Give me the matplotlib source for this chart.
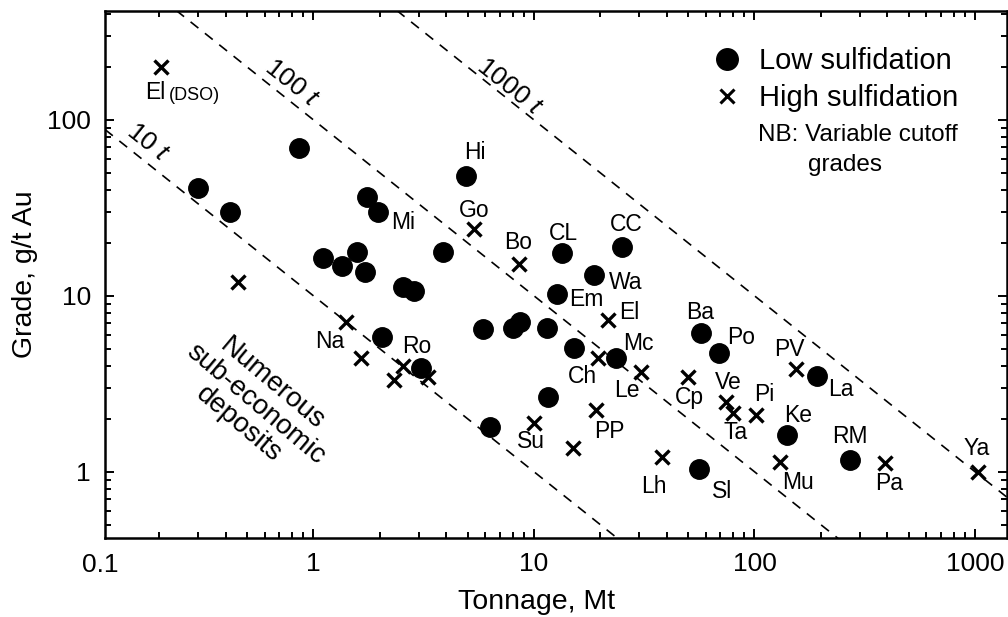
import numpy as np
import matplotlib
matplotlib.use('Agg')
import matplotlib.pyplot as plt
from matplotlib.lines import Line2D
from matplotlib.ticker import FixedLocator, FuncFormatter, NullFormatter

plt.rcParams['font.family'] = ['Liberation Sans', 'DejaVu Sans']
plt.rcParams['mathtext.fontset'] = 'custom'
plt.rcParams['mathtext.rm'] = 'Liberation Sans'
plt.rcParams['mathtext.it'] = 'Liberation Sans:italic'

# ---------------- data ----------------
ls_names = ['', 'Hi', '', '', '', 'Mi', '', '', '', '', '', '', '', '', '', '', '', '', '',
            'CL', 'CC', 'Wa', 'Em', '', 'Mc', '', '', 'Ba', 'Po', 'La', 'Sl', 'Ke', 'RM']
ls_tonnage = [0.86, 4.9, 0.30, 0.42, 1.74, 1.97, 3.86, 1.11, 1.35, 1.58, 1.72, 2.54, 2.85,
              2.04, 3.06, 5.9, 8.0, 8.6, 11.5, 13.4, 25, 18.7, 12.7, 15.2, 23.6, 11.6, 6.3,
              57, 69, 193, 56, 141, 270]
ls_grade = [69, 48, 41, 30, 36.5, 30, 17.8, 16.4, 14.8, 17.8, 13.7, 11.2, 10.7,
            5.85, 3.9, 6.5, 6.6, 7.1, 6.6, 17.5, 19, 13.2, 10.3, 5.07, 4.44, 2.67, 1.8,
            6.17, 4.74, 3.51, 1.04, 1.62, 1.17]

hs_names = ['El(DSO)', 'Go', 'Bo', '', 'Na', '', 'Ro', '', '', 'El', 'Ch', 'Le', 'Su', 'PP', '',
            'Cp', 'Ve', 'Ta', 'Pi', 'PV', 'Lh', 'Mu', 'Pa', 'Ya']
hs_tonnage = [0.204, 5.34, 8.55, 0.456, 1.40, 1.64, 2.56, 3.30, 2.31, 21.7, 19.5, 30.6, 10.0,
              19.1, 15.0, 50, 74, 80, 102, 154, 38, 131, 390, 1030]
hs_grade = [200, 24, 15.2, 12.0, 7.1, 4.44, 4.0, 3.47, 3.33, 7.3, 4.44, 3.7, 1.9,
            2.25, 1.37, 3.47, 2.5, 2.16, 2.11, 3.85, 1.22, 1.14, 1.12, 1.0]

contained_au_t = [10, 100, 1000]
x_ticks = [1, 10, 100, 1000]
y_ticks = [1, 10, 100]

# ---------------- layout (label offsets in points) ----------------
ls_off = {'Hi': (6.5, 17), 'Mi': (18, -8), 'CL': (0.7, 14.4), 'CC': (3, 16), 'Wa': (23, -6),
          'Em': (21, -4), 'Mc': (16, 10), 'Ba': (-0.7, 14.4), 'Po': (16, 11), 'La': (17, -10),
          'Sl': (16.5, -16.5), 'Ke': (8, 13.7), 'RM': (0, 16.5)}
hs_off = {'Go': (0, 13), 'Bo': (-0.7, 15), 'Na': (-11.5, -14.4), 'Ro': (9.4, 13.7),
          'El': (15, 5), 'Ch': (-11.5, -13.7), 'Le': (-10, -13.7), 'Su': (-2, -13.7),
          'PP': (10, -16), 'Cp': (0.7, -15), 'Ve': (2, 13.7), 'Ta': (2, -14.4),
          'Pi': (6, 14.4), 'PV': (-4.3, 13.7), 'Lh': (-6, -21.6), 'Mu': (13, -15),
          'Pa': (3, -14.4), 'Ya': (-0.7, 17)}

fig = plt.figure(figsize=(10.08, 6.17), dpi=100)
ax = fig.add_axes([105 / 1008, 79 / 617, 902 / 1008, 527 / 617])
ax.set_xscale('log')
ax.set_yscale('log')
ax.set_xlim(0.1134, 1397)
ax.set_ylim(0.42, 416)

# iso-contained-gold lines
xs = np.logspace(np.log10(0.1134), np.log10(1397), 200)
for t in contained_au_t:
    ax.plot(xs, t / xs, color='k', lw=1.2, ls=(0, (6, 5)), zorder=1)

ax.plot(ls_tonnage, ls_grade, 'o', color='k', markersize=14, ls='none', zorder=3)
ax.plot(hs_tonnage, hs_grade, 'x', color='k', markersize=10, mew=2.4, ls='none', zorder=3)

lab_fs = 16.5
for n, x, y in zip(ls_names, ls_tonnage, ls_grade):
    if n:
        ax.annotate(n, (x, y), xytext=ls_off[n], textcoords='offset points',
                    ha='center', va='center', fontsize=lab_fs)
for n, x, y in zip(hs_names, hs_tonnage, hs_grade):
    if n == 'El(DSO)':
        ax.annotate('El', (x, y), xytext=(-4.3, -18.7), textcoords='offset points',
                    ha='center', va='center', fontsize=lab_fs)
        ax.annotate('(DSO)', (x, y), xytext=(23.8, -20.5), textcoords='offset points',
                    ha='center', va='center', fontsize=13)
    elif n:
        ax.annotate(n, (x, y), xytext=hs_off[n], textcoords='offset points',
                    ha='center', va='center', fontsize=lab_fs)

# axes styling
ax.xaxis.set_major_locator(FixedLocator(x_ticks))
ax.yaxis.set_major_locator(FixedLocator(y_ticks))
fmt = FuncFormatter(lambda v, p: '%g' % v)
ax.xaxis.set_major_formatter(fmt)
ax.yaxis.set_major_formatter(fmt)
minor_x = [m * 10.0 ** e for e in range(-1, 4) for m in range(2, 10)]
minor_y = [m * 10.0 ** e for e in range(-1, 3) for m in range(2, 10)]
ax.xaxis.set_minor_locator(FixedLocator(minor_x))
ax.yaxis.set_minor_locator(FixedLocator(minor_y))
ax.xaxis.set_minor_formatter(NullFormatter())
ax.yaxis.set_minor_formatter(NullFormatter())
ax.tick_params(which='both', direction='in', top=True, right=True, width=1.4, labelsize=19)
ax.tick_params(which='major', length=6.5)
ax.tick_params(which='minor', length=4.5)
ax.tick_params(axis='x', pad=10)
ax.tick_params(axis='y', pad=10)
for s in ax.spines.values():
    s.set_linewidth(1.8)

ax.text(-0.0055, -0.0512, '0.1', transform=ax.transAxes, ha='center', va='center', fontsize=19)

ax.set_xlabel('Tonnage, Mt', fontsize=20.5)
ax.set_ylabel('Grade, g/t Au', fontsize=20.5)
ax.xaxis.label.set_va('center')
ax.yaxis.label.set_va('center')
ax.xaxis.set_label_coords(0.479, -0.1214)
ax.yaxis.set_label_coords(-0.0887, 0.5)

# line labels
p1 = ax.transData.transform((1, 1000))
p2 = ax.transData.transform((10, 100))
ang = np.degrees(np.arctan2(p2[1] - p1[1], p2[0] - p1[0]))
for txt, (x, y) in [('10 $t$', (0.178, 74)), ('100 $t$', (0.80, 162)), ('1000 $t$', (7.7, 154))]:
    ax.text(x, y, txt, rotation=ang, rotation_mode='anchor', ha='center', va='center',
            fontsize=19)

ax.text(0.545, 2.42, 'Numerous\nsub-economic\ndeposits', rotation=ang - 1.5, rotation_mode='anchor',
        ha='center', va='center', multialignment='center', fontsize=20, linespacing=1.03)

handles = [Line2D([], [], marker='o', ls='none', color='k', markersize=15.5),
           Line2D([], [], marker='x', ls='none', color='k', markersize=10, mew=2.2)]
ax.legend(handles, ['Low sulfidation', 'High sulfidation'], loc='upper left',
          bbox_to_anchor=(0.6735, 0.931), frameon=False, fontsize=21, handlelength=1.0,
          handletextpad=0.6, borderpad=0, borderaxespad=0, labelspacing=0.29)
ax.text(0.724, 0.765, 'NB: Variable cutoff', transform=ax.transAxes, ha='left', va='center',
        fontsize=17.5)
ax.text(0.779, 0.708, 'grades', transform=ax.transAxes, ha='left', va='center', fontsize=17.5)

fig.savefig('out.png', dpi=100)
